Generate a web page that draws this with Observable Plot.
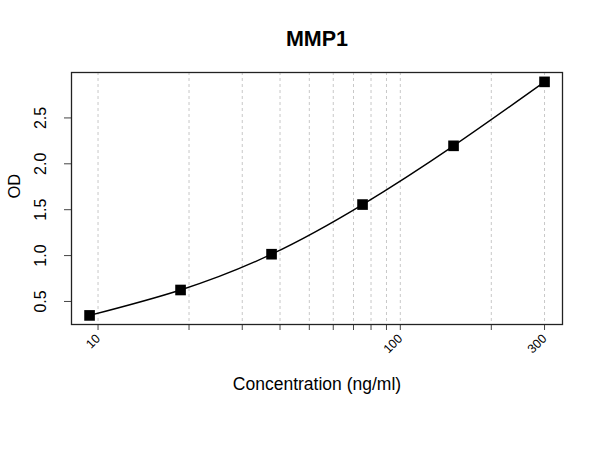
<!DOCTYPE html>
<html>
<head>
<meta charset="utf-8">
<script src="https://cdn.jsdelivr.net/npm/d3@7"></script>
<script src="https://cdn.jsdelivr.net/npm/@observablehq/plot@0.6"></script>
<style>
  html, body { margin: 0; padding: 0; background: #ffffff; }
</style>
</head>
<body>
<div id="chart"></div>
<script>
const chartTitle = "MMP1";
const xLabel = "Concentration (ng/ml)";
const yLabel = "OD";
const concentration = [9.375, 18.75, 37.5, 75, 150, 300];
const od = [0.348, 0.625, 1.015, 1.556, 2.196, 2.893];
const xTicks = [10, 20, 30, 40, 50, 60, 70, 80, 90, 100, 200, 300];
const xTickLabels = [10, 100, 300];
const yTicks = [0.5, 1.0, 1.5, 2.0, 2.5];

const data = concentration.map((c, i) => ({conc: c, od: od[i]}));
const font = "'Liberation Sans', Arial, Helvetica, sans-serif";

const plot = Plot.plot({
  width: 600,
  height: 450,
  marginLeft: 71,
  marginRight: 38,
  marginTop: 72,
  marginBottom: 126,
  style: {fontFamily: font, fontSize: "15px", background: "#ffffff", color: "#000"},
  x: {type: "log", domain: [8.17, 344]},
  y: {domain: [0.249, 2.995]},
  marks: [
    Plot.ruleX(xTicks, {stroke: "#c8c8c8", strokeDasharray: "3,3", strokeWidth: 1}),
    Plot.axisX({ticks: xTicks, tickSize: 6, tickPadding: 6, tickRotate: -45,
      tickFormat: d => xTickLabels.includes(d) ? String(d) : "",
      fontSize: 12.5, label: null, stroke: "#444"}),
    Plot.axisY({ticks: yTicks, tickSize: 7, tickPadding: 19, tickRotate: -90,
      tickFormat: d3.format(".1f"), fontSize: 16, label: null, stroke: "#444"}),
    Plot.line(data, {x: "conc", y: "od", curve: "natural", stroke: "#000", strokeWidth: 1.4}),
    Plot.dot(data, {x: "conc", y: "od", symbol: "square", r: 6, fill: "#000", stroke: "none"}),
    Plot.frame({stroke: "#222", strokeWidth: 1.3}),
    Plot.text([chartTitle], {frameAnchor: "top", dy: -33, fontSize: 21.5, fontWeight: "bold", lineAnchor: "middle"}),
    Plot.text([xLabel], {frameAnchor: "bottom", dy: 60, fontSize: 17.5, lineAnchor: "middle"}),
    Plot.text([yLabel], {frameAnchor: "left", dx: -57, rotate: -90, fontSize: 16.5, lineAnchor: "middle"})
  ]
});
document.getElementById("chart").appendChild(plot);
</script>
</body>
</html>
